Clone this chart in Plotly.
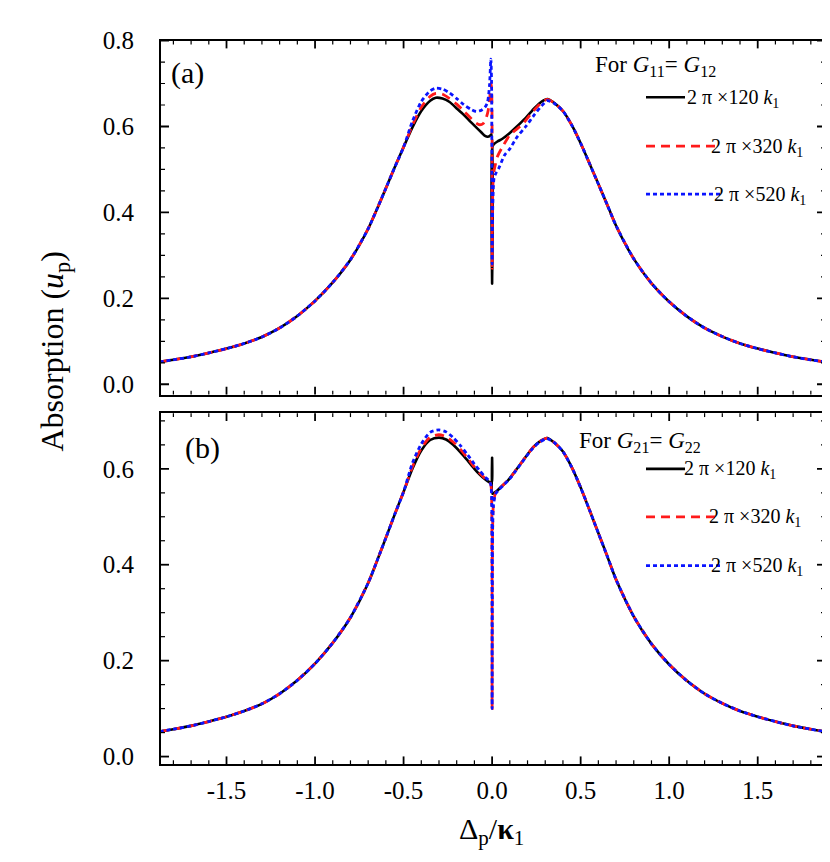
import plotly.graph_objects as go

# ---------------- data ----------------
left_tail_x = [-1.88, -1.8, -1.7, -1.6, -1.5, -1.4, -1.3, -1.2, -1.1, -1.0, -0.9, -0.8, -0.7, -0.65, -0.6, -0.55, -0.5]
left_tail_y = [0.052, 0.057, 0.064, 0.073, 0.083, 0.095, 0.110, 0.131, 0.159, 0.194, 0.237, 0.290, 0.362, 0.408, 0.456, 0.505, 0.552]
right_tail_x = [0.4, 0.45, 0.5, 0.55, 0.6, 0.65, 0.7, 0.8, 0.9, 1.0, 1.1, 1.2, 1.3, 1.4, 1.5, 1.6, 1.7, 1.8, 1.88]
right_tail_y = [0.636, 0.603, 0.561, 0.514, 0.466, 0.418, 0.369, 0.292, 0.235, 0.192, 0.158, 0.131, 0.111, 0.095, 0.083, 0.073, 0.064, 0.057, 0.052]

# panel (a): G11 = G12
a_black_x = [-0.45, -0.4, -0.35, -0.318, -0.28, -0.24, -0.2, -0.16, -0.12, -0.09, -0.06, -0.04, -0.025, -0.012, -0.003, 0.0, 0.002, 0.01, 0.03, 0.06, 0.1, 0.14, 0.19, 0.24, 0.28, 0.312, 0.35]
a_black_y = [0.598, 0.636, 0.660, 0.667, 0.665, 0.657, 0.642, 0.627, 0.610, 0.598, 0.586, 0.578, 0.576, 0.578, 0.582, 0.234, 0.553, 0.559, 0.565, 0.572, 0.585, 0.600, 0.620, 0.643, 0.658, 0.664, 0.655]
a_red_x = [-0.45, -0.4, -0.35, -0.318, -0.28, -0.24, -0.2, -0.16, -0.12, -0.09, -0.07, -0.05, -0.035, -0.022, -0.013, -0.007, -0.003, 0.0, 0.003, 0.008, 0.015, 0.03, 0.058, 0.1, 0.171, 0.22, 0.26, 0.29, 0.312, 0.35]
a_red_y = [0.603, 0.645, 0.670, 0.677, 0.675, 0.665, 0.652, 0.636, 0.619, 0.608, 0.604, 0.607, 0.618, 0.638, 0.667, 0.700, 0.690, 0.270, 0.440, 0.490, 0.505, 0.530, 0.552, 0.580, 0.605, 0.630, 0.648, 0.659, 0.663, 0.655]
a_blue_x = [-0.45, -0.4, -0.35, -0.318, -0.28, -0.24, -0.2, -0.16, -0.12, -0.09, -0.06, -0.04, -0.027, -0.02, -0.014, -0.007, -0.003, 0.0, 0.003, 0.006, 0.011, 0.02, 0.04, 0.07, 0.1, 0.14, 0.19, 0.24, 0.28, 0.312, 0.35]
a_blue_y = [0.612, 0.658, 0.683, 0.689, 0.687, 0.678, 0.665, 0.651, 0.640, 0.635, 0.638, 0.645, 0.655, 0.672, 0.700, 0.757, 0.700, 0.280, 0.400, 0.450, 0.480, 0.490, 0.505, 0.533, 0.548, 0.575, 0.600, 0.628, 0.648, 0.660, 0.654]

# panel (b): G21 = G22
b_black_x = [-0.45, -0.4, -0.35, -0.30, -0.26, -0.22, -0.18, -0.14, -0.1, -0.07, -0.04, -0.02, -0.006, -0.001, 0.0, 0.002, 0.01, 0.025, 0.05, 0.09, 0.13, 0.18, 0.23, 0.27, 0.31, 0.35]
b_black_y = [0.600, 0.638, 0.660, 0.665, 0.661, 0.650, 0.635, 0.618, 0.600, 0.588, 0.578, 0.573, 0.572, 0.574, 0.623, 0.548, 0.550, 0.553, 0.562, 0.576, 0.595, 0.620, 0.644, 0.657, 0.664, 0.655]
b_red_x = [-0.45, -0.4, -0.35, -0.30, -0.26, -0.22, -0.18, -0.14, -0.1, -0.07, -0.04, -0.02, -0.008, -0.003, 0.0, 0.003, 0.008, 0.02, 0.04, 0.07, 0.1, 0.13, 0.18, 0.23, 0.27, 0.31, 0.35]
b_red_y = [0.604, 0.643, 0.666, 0.671, 0.667, 0.656, 0.641, 0.623, 0.604, 0.591, 0.580, 0.574, 0.568, 0.545, 0.100, 0.480, 0.530, 0.550, 0.558, 0.569, 0.580, 0.595, 0.620, 0.644, 0.657, 0.664, 0.655]
b_blue_x = b_red_x
b_blue_y = [0.612, 0.652, 0.676, 0.681, 0.677, 0.665, 0.649, 0.630, 0.610, 0.596, 0.583, 0.576, 0.568, 0.545, 0.100, 0.475, 0.525, 0.548, 0.557, 0.568, 0.579, 0.594, 0.619, 0.643, 0.656, 0.663, 0.655]

series_names = ["2 π ×120 <i>k</i><sub>1</sub>", "2 π ×320 <i>k</i><sub>1</sub>", "2 π ×520 <i>k</i><sub>1</sub>"]
x_tickvals = [-1.5, -1.0, -0.5, 0.0, 0.5, 1.0, 1.5]
x_ticktext = ["-1.5", "-1.0", "-0.5", "0.0", "0.5", "1.0", "1.5"]
ya_tickvals = [0.0, 0.2, 0.4, 0.6, 0.8]
ya_ticktext = ["0.0", "0.2", "0.4", "0.6", "0.8"]
yb_tickvals = [0.0, 0.2, 0.4, 0.6]
yb_ticktext = ["0.0", "0.2", "0.4", "0.6"]

# ---------------- figure ----------------
W, H = 830, 862
FONT = "Liberation Serif"
styles = [
    dict(color="#000000", width=2.6, dash="solid"),
    dict(color="#ff1a1a", width=2.8, dash="9px,6px"),
    dict(color="#0a14ff", width=2.8, dash="4px,3px"),
]
XR = [-1.87, 1.88]
YRA = [-0.024, 0.8]
YRB = [-0.016, 0.716]


def px(v):
    return v / W


def py(v):
    return 1 - v / H


def full(cx, cy):
    return left_tail_x + cx + right_tail_x, left_tail_y + cy + right_tail_y


fig = go.Figure()
panel_a = [(a_black_x, a_black_y), (a_red_x, a_red_y), (a_blue_x, a_blue_y)]
panel_b = [(b_black_x, b_black_y), (b_red_x, b_red_y), (b_blue_x, b_blue_y)]
for axes, panel in (("x", "y"), panel_a), (("x2", "y2"), panel_b):
    for i, (cx, cy) in enumerate(panel):
        x, y = full(cx, cy)
        fig.add_trace(go.Scatter(x=x, y=y, mode="lines",
                                 line=dict(shape="spline", smoothing=0.7, **styles[i]),
                                 name=series_names[i], showlegend=False,
                                 xaxis=axes[0], yaxis=axes[1]))

xdom = [px(153), px(817)]
ydomA = [py(382), py(20)]
ydomB = [py(760), py(401)]
PW = 817 - 153
PHA = 382 - 20
PHB = 760 - 401
tick_font = dict(family=FONT, size=25, color="black")


def main_axis(**kw):
    d = dict(showline=True, linecolor="black", linewidth=2, mirror=True, ticks="",
             showgrid=False, zeroline=False, tickfont=tick_font, tickmode="array")
    d.update(kw)
    return d


fig.update_layout(
    width=W, height=H, margin=dict(l=0, r=0, t=0, b=0),
    paper_bgcolor="white", plot_bgcolor="white", showlegend=False,
    font=dict(family=FONT, color="black"),
    xaxis=main_axis(domain=xdom, anchor="y", range=XR, tickvals=x_tickvals, ticktext=x_ticktext,
                    showticklabels=False),
    yaxis=main_axis(domain=ydomA, anchor="x", range=YRA, tickvals=ya_tickvals, ticktext=ya_ticktext,
                    ticklabelstandoff=20),
    xaxis2=main_axis(domain=xdom, anchor="y2", range=XR, tickvals=x_tickvals, ticktext=x_ticktext,
                     ticklabelstandoff=3),
    yaxis2=main_axis(domain=ydomB, anchor="x2", range=YRB, tickvals=yb_tickvals, ticktext=yb_ticktext,
                     ticklabelstandoff=20),
)

# inward-pointing frame ticks (major + minor) on all four sides of both panels
shapes = []
MAJ, MIN = 8, 4
x_minor = [k / 10 for k in range(-18, 19) if k % 5 != 0]
for xr, yr, ph, yvals, ymax in (("x", "y", PHA, ya_tickvals, 16), ("x2", "y2", PHB, yb_tickvals, 14)):
    y_minor = [k / 20 for k in range(0, ymax + 1) if k % 4 != 0]
    for vals, L, w in ((x_tickvals, MAJ, 1.8), (x_minor, MIN, 1.2)):
        for v in vals:
            for base, sgn in ((0, 1), (1, -1)):
                shapes.append(dict(type="line", xref=xr, yref=yr + " domain", x0=v, x1=v,
                                   y0=base, y1=base + sgn * L / ph, line=dict(color="black", width=w),
                                   layer="above"))
    for vals, L, w in ((yvals, MAJ, 1.8), (y_minor, MIN, 1.2)):
        for v in vals:
            for base, sgn in ((0, 1), (1, -1)):
                shapes.append(dict(type="line", xref=xr + " domain", yref=yr, x0=base,
                                   x1=base + sgn * L / PW, y0=v, y1=v,
                                   line=dict(color="black", width=w), layer="above"))

ann = []
ann.append(dict(text="(a)", x=px(161), y=py(53), xanchor="left", yanchor="middle",
                font=dict(family=FONT, size=30, color="black")))
ann.append(dict(text="(b)", x=px(175), y=py(437), xanchor="left", yanchor="middle",
                font=dict(family=FONT, size=30, color="black")))
ann.append(dict(text="Absorption (<i>u</i><sub>p</sub>)", x=px(47), y=py(338), textangle=-90,
                xanchor="center", yanchor="middle", font=dict(family=FONT, size=32, color="black")))
ann.append(dict(text="Δ<sub>p</sub>/<b>κ</b><sub>1</sub>", x=px(483), y=py(828), xanchor="center",
                yanchor="middle", font=dict(family=FONT, size=30, color="black")))

leg_font = dict(family=FONT, size=23, color="black")
ann.append(dict(text="For <i>G</i><sub>11</sub>= <i>G</i><sub>12</sub>", x=px(585), y=py(46),
                xanchor="left", yanchor="middle", font=leg_font))
ann.append(dict(text="For <i>G</i><sub>21</sub>= <i>G</i><sub>22</sub>", x=px(569), y=py(430),
                xanchor="left", yanchor="middle", font=leg_font))
item_font = dict(family=FONT, size=20, color="black")
legA = [(78, 677, 677), (128, 712, 701), (177, 712, 704)]
legB = [(458, 677, 674), (507, 707, 699), (557, 713, 701)]
for leg in (legA, legB):
    for i, (yy, xend, xt) in enumerate(leg):
        st = styles[i]
        shapes.append(dict(type="line", xref="paper", yref="paper", x0=px(638), x1=px(xend),
                           y0=py(yy), y1=py(yy),
                           line=dict(color=st["color"], width=st["width"], dash=st["dash"])))
        ann.append(dict(text=series_names[i], x=px(xt), y=py(yy + 1), xanchor="left", yanchor="middle",
                        font=item_font))

for a in ann:
    a.update(xref="paper", yref="paper", showarrow=False)
fig.update_layout(annotations=ann, shapes=shapes)

fig.write_html("out.html")
